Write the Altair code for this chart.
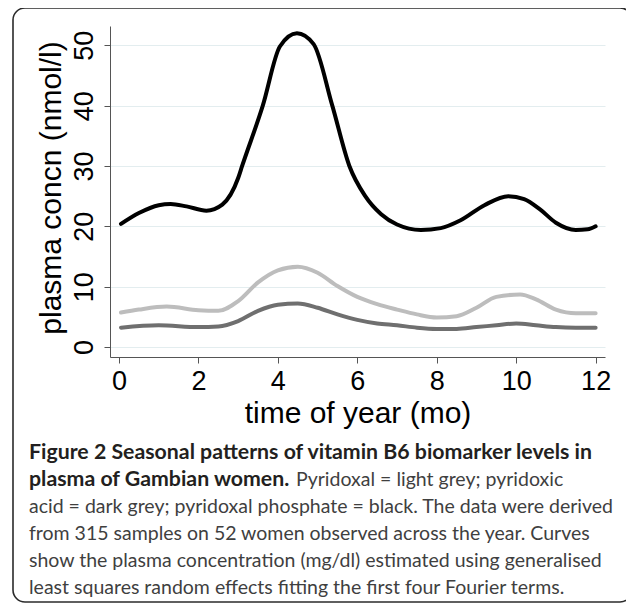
import altair as alt
import pandas as pd

# ---- data ----
x_black = [0.05, 0.5, 1.0, 1.3, 1.7, 2.2, 2.6, 3.0, 3.1, 3.62, 4.05, 4.48, 4.9, 5.37, 5.8, 6.2, 6.6,
           7.0, 7.6, 8.1, 8.6, 9.2, 9.8, 10.2, 10.6, 11.0, 11.5, 11.8, 12.0]
y_black = [20.4, 22.2, 23.5, 23.7, 23.3, 22.6, 23.6, 28.0, 30.0, 40.0, 49.8, 52.0, 50.2, 40.0, 30.0, 25.0, 22.0,
           20.3, 19.4, 19.7, 21.0, 23.5, 25.0, 24.5, 22.8, 20.6, 19.4, 19.5, 20.0]

x_light = [0.05, 0.5, 1.2, 2.0, 2.5, 3.0, 3.5, 4.0, 4.5, 5.0, 5.5, 6.0, 6.5, 7.0, 7.5, 8.0, 8.5,
           9.0, 9.5, 10.1, 10.5, 11.0, 11.5, 12.0]
y_light = [5.7, 6.2, 6.7, 6.1, 6.0, 7.6, 10.7, 12.7, 13.3, 12.3, 10.1, 8.3, 7.1, 6.2, 5.4, 4.9, 5.1,
           6.5, 8.3, 8.7, 7.9, 6.2, 5.6, 5.6]

x_dark = [0.05, 1.0, 2.0, 2.5, 3.0, 3.5, 4.0, 4.5, 5.0, 5.5, 6.0, 6.5, 7.0, 7.5, 8.0, 8.5,
          9.0, 9.5, 10.0, 10.5, 11.0, 11.5, 12.0]
y_dark = [3.2, 3.6, 3.3, 3.4, 4.3, 6.0, 7.0, 7.2, 6.5, 5.4, 4.5, 3.9, 3.6, 3.2, 3.0, 3.0,
          3.3, 3.6, 3.9, 3.6, 3.3, 3.2, 3.2]

series_names = ["pyridoxal phosphate", "pyridoxal", "pyridoxic acid"]
series_colors = ["#000000", "#bdbdbd", "#6f6f6f"]

x_ticks = [0, 2, 4, 6, 8, 10, 12]
y_ticks = [0, 10, 20, 30, 40, 50]

x_title = "time of year (mo)"
y_title = "plasma concn (nmol/l)"

caption_bold_1 = "Figure 2 Seasonal patterns of vitamin B6 biomarker levels in"
caption_bold_2 = "plasma of Gambian women."
caption_reg_2 = "Pyridoxal = light grey; pyridoxic"
caption_reg = [
    "acid = dark grey; pyridoxal phosphate = black. The data were derived",
    "from 315 samples on 52 women observed across the year. Curves",
    "show the plasma concentration (mg/dl) estimated using generalised",
    "least squares random effects fitting the first four Fourier terms.",
]

rows = []
for name, xs, ys in zip(series_names, [x_black, x_light, x_dark], [y_black, y_light, y_dark]):
    for i, (a, b) in enumerate(zip(xs, ys)):
        rows.append({"series": name, "month": a, "conc": b, "order": i})
df = pd.DataFrame(rows)

W, H = 495, 331
AX_FONT = "Liberation Sans"
CAP_FONT = "Lato"
BOLD_SIZE = 21.3
REG_SIZE = 19.5

lines = alt.Chart(df).mark_line(strokeWidth=4, interpolate="monotone", strokeCap="round").encode(
    x=alt.X("month:Q",
            scale=alt.Scale(domain=[-0.227, 12.236], nice=False, zero=False),
            axis=alt.Axis(values=x_ticks, title=x_title, grid=False, format="d",
                          labelFontSize=27, labelFont=AX_FONT, labelColor="#000",
                          labelPadding=5, tickSize=6, tickColor="#555", domainColor="#555",
                          titleFont=AX_FONT, titleFontSize=30, titleFontWeight="normal",
                          titleColor="#000", titleX=W / 2, titleY=65,
                          titleBaseline="alphabetic", titleAlign="center")),
    y=alt.Y("conc:Q",
            scale=alt.Scale(domain=[-1.66, 53.2], nice=False, zero=False),
            axis=alt.Axis(values=y_ticks, title=y_title, grid=True, gridColor="#e3edef",
                          gridWidth=1, labelAngle=-90, labelAlign="center",
                          labelBaseline="alphabetic", labelPadding=12,
                          labelFontSize=27, labelFont=AX_FONT, labelColor="#000",
                          tickSize=6, tickColor="#555", domainColor="#555",
                          titleFont=AX_FONT, titleFontSize=30, titleFontWeight="normal",
                          titleColor="#000", titleAngle=-90, titleX=-49.5, titleY=H / 2 - 4,
                          titleBaseline="alphabetic", titleAlign="center")),
    color=alt.Color("series:N", scale=alt.Scale(domain=series_names, range=series_colors), legend=None),
    detail="series:N",
    order="order:Q",
)

one = pd.DataFrame({"k": [0]})

box = alt.Chart(one).mark_rect(fillOpacity=0, stroke="#2b2b2b", strokeWidth=1.6, cornerRadius=12).encode(
    x=alt.value(13 - 110), x2=alt.value(632 - 110),
    y=alt.value(8 - 26), y2=alt.value(602 - 26),
)

cap_layers = []
y0 = 453 - 26
dy = 27
cap_layers.append(alt.Chart(one).mark_text(font=CAP_FONT, fontSize=BOLD_SIZE, fontWeight="bold", color="#231f20",
                                           align="left", baseline="middle").encode(
    x=alt.value(29 - 110), y=alt.value(y0), text=alt.value(caption_bold_1)))
cap_layers.append(alt.Chart(one).mark_text(font=CAP_FONT, fontSize=BOLD_SIZE, fontWeight="bold", color="#231f20",
                                           align="left", baseline="middle").encode(
    x=alt.value(29 - 110), y=alt.value(y0 + dy), text=alt.value(caption_bold_2)))
cap_layers.append(alt.Chart(one).mark_text(font=CAP_FONT, fontSize=REG_SIZE, color="#3f3f3f",
                                           align="left", baseline="middle").encode(
    x=alt.value(296 - 110), y=alt.value(y0 + dy), text=alt.value(caption_reg_2)))
for i, t in enumerate(caption_reg):
    cap_layers.append(alt.Chart(one).mark_text(font=CAP_FONT, fontSize=REG_SIZE, color="#3f3f3f",
                                               align="left", baseline="middle").encode(
        x=alt.value(29 - 110), y=alt.value(y0 + dy * (i + 2)), text=alt.value(t)))

chart = alt.layer(lines, box, *cap_layers).properties(
    width=W, height=H,
    autosize=alt.AutoSizeParams(type="none"),
    padding={"left": 102, "top": 18, "right": 21, "bottom": 247},
).configure_view(stroke=None)

chart.save("out.html", embed_options={"renderer": "svg", "actions": False})
